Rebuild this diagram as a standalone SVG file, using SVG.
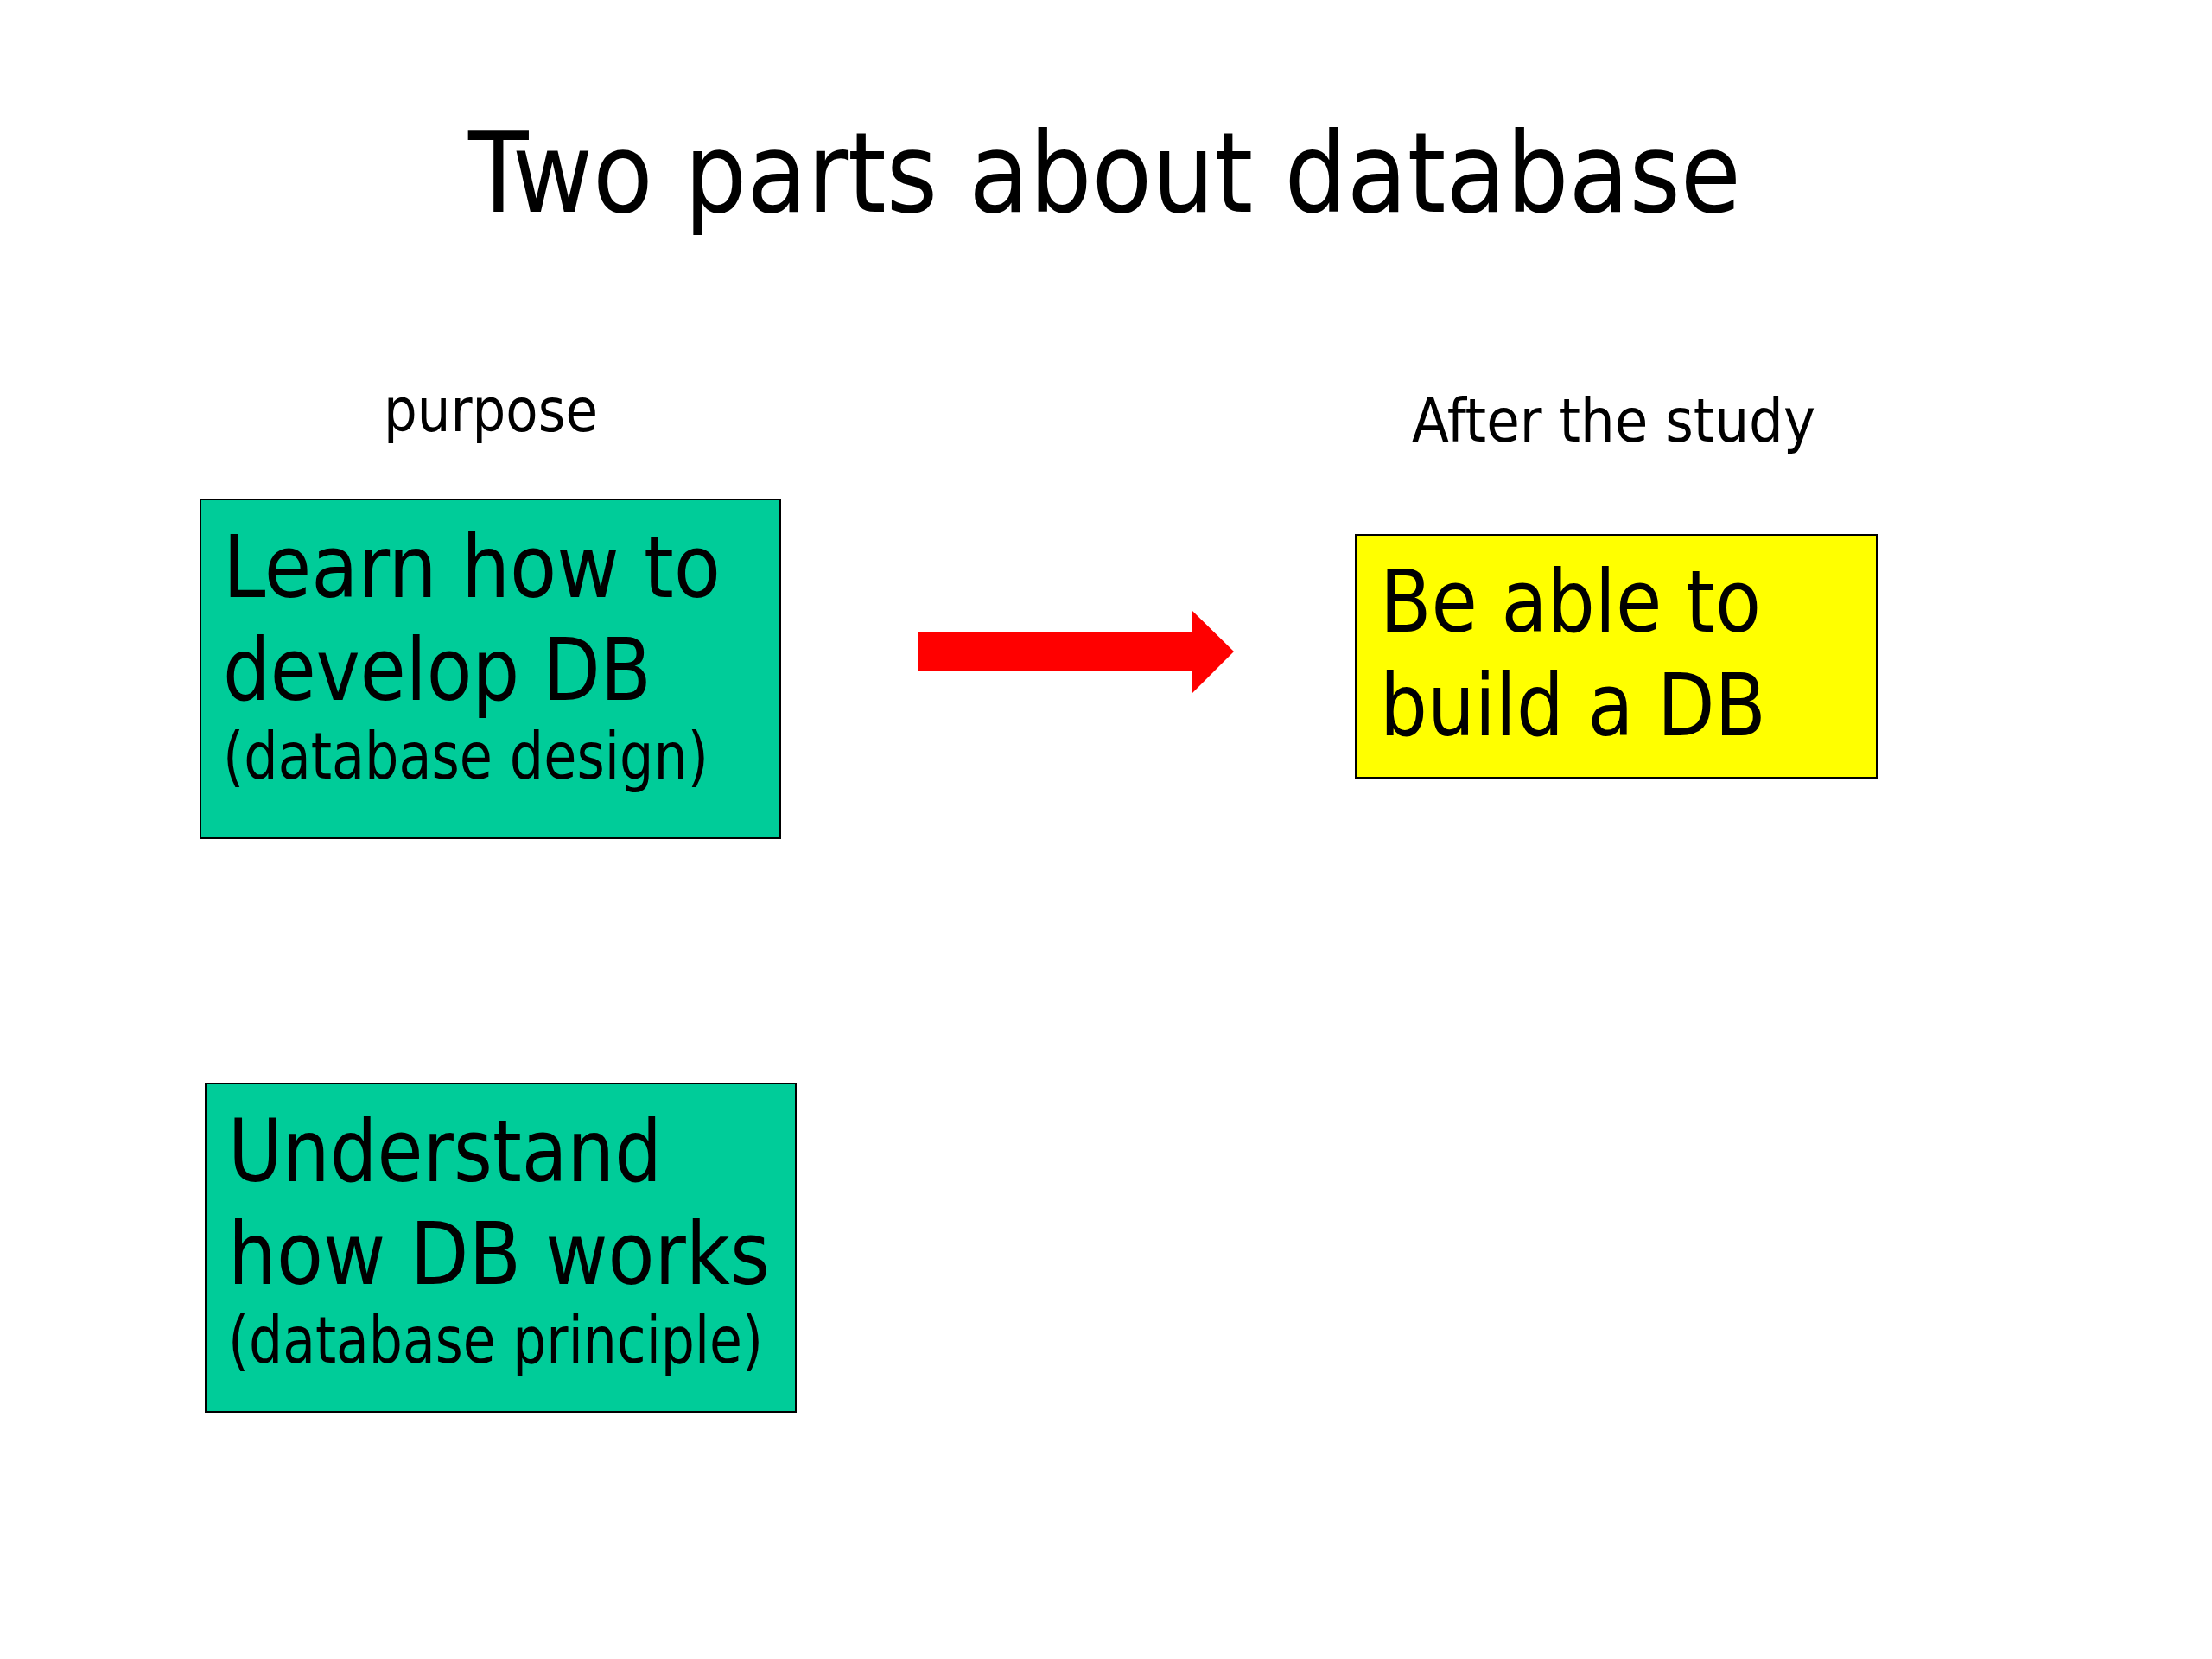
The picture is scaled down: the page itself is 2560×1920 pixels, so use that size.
<svg xmlns="http://www.w3.org/2000/svg" width="2560" height="1920" viewBox="0 0 2560 1920">
<style>
text{font-family:"DejaVu Sans","Liberation Sans",sans-serif;fill:#000}
.box{stroke:#000;stroke-width:2}
.green{fill:#00CC99}
.yellow{fill:#FFFF00}
.big{font-size:100px}
.sub{font-size:74px}
.lbl{font-size:70px}
</style>
<rect width="2560" height="1920" fill="#fff"/>
<text x="542" y="245" font-size="128" textLength="1473" lengthAdjust="spacingAndGlyphs">Two parts about database</text>
<text x="444" y="499" class="lbl" textLength="248" lengthAdjust="spacingAndGlyphs">purpose</text>
<text x="1634" y="511" class="lbl" textLength="467" lengthAdjust="spacingAndGlyphs">After the study</text>
<g id="learn">
<rect class="box green" x="232" y="578" width="671" height="392"/>
<text x="258" y="691" class="big" textLength="576" lengthAdjust="spacingAndGlyphs">Learn how to</text>
<text x="258" y="810" class="big" textLength="496" lengthAdjust="spacingAndGlyphs">develop DB</text>
<text x="258" y="901" class="sub" textLength="562" lengthAdjust="spacingAndGlyphs">(database design)</text>
</g>
<g id="build">
<rect class="box yellow" x="1569" y="619" width="603" height="281"/>
<text x="1597" y="731" class="big" textLength="441" lengthAdjust="spacingAndGlyphs">Be able to</text>
<text x="1597" y="851" class="big" textLength="447" lengthAdjust="spacingAndGlyphs">build a DB</text>
</g>
<g id="understand">
<rect class="box green" x="238" y="1254" width="683" height="380"/>
<text x="264" y="1367" class="big" textLength="502" lengthAdjust="spacingAndGlyphs">Understand</text>
<text x="264" y="1486" class="big" textLength="627" lengthAdjust="spacingAndGlyphs">how DB works</text>
<text x="264" y="1577" class="sub" textLength="619" lengthAdjust="spacingAndGlyphs">(database principle)</text>
</g>
<g id="connectors">
<polygon points="1063,731 1380,731 1380,707 1428,754 1380,802 1380,777 1063,777" fill="#FF0000"/>
</g>
</svg>
